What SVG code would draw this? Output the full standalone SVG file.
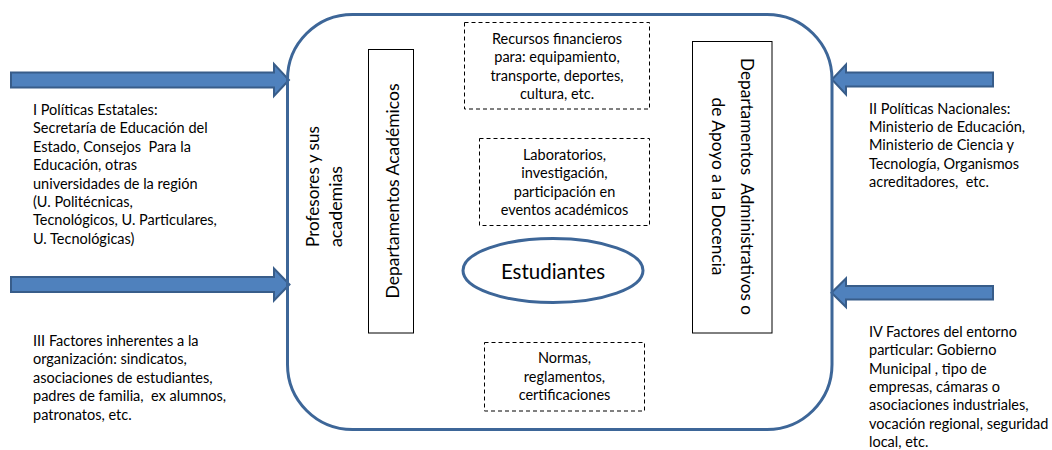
<svg xmlns="http://www.w3.org/2000/svg" width="1052" height="450" viewBox="0 0 1052 450">
<style>
.t{font-family:Lato,"Liberation Sans",sans-serif;font-size:14.5px;fill:#000}
.c{text-anchor:middle}
.big{font-size:18px}
.arrow{fill:#4F81BD;stroke:#385D8A;stroke-width:2;stroke-linejoin:miter}
.dash{fill:#fff;stroke:#000;stroke-width:1;stroke-dasharray:4 3}
.solid{fill:#fff;stroke:#000;stroke-width:1}
</style>
<rect width="1052" height="450" fill="#fff"/>
<g id="connectors">
<path class="arrow" d="M11,72.5 H274 V64 L289,80 L274,96 V87.5 H11 Z"/>
<path class="arrow" d="M11,277 H274 V268.5 L289.5,284.5 L274,300.5 V292 H11 Z"/>
<path class="arrow" d="M993,72.5 H846 V64.5 L832,79.5 L846,94.5 V86.5 H993 Z"/>
<path class="arrow" d="M993,286 H846 V278.5 L831.5,292.7 L846,307 V299.5 H993 Z"/>
</g>
<g id="institution">
<rect x="287.5" y="14.5" width="544.5" height="415" rx="65" ry="65" fill="none" stroke="#3D6698" stroke-width="3"/>
</g>
<g id="profesores">
<text class="t big" transform="translate(319,247) rotate(-90)" textLength="121" lengthAdjust="spacingAndGlyphs">Profesores y sus</text>
<text class="t big" transform="translate(342,247) rotate(-90)" textLength="81" lengthAdjust="spacingAndGlyphs">academias</text>
</g>
<g id="dep-academicos">
<rect class="solid" x="368.5" y="49.5" width="45" height="283.5"/>
<text class="t big c" transform="translate(399,191) rotate(-90)" textLength="215" lengthAdjust="spacingAndGlyphs">Departamentos Académicos</text>
</g>
<g id="dep-administrativos">
<rect class="solid" x="692.5" y="41.5" width="79.5" height="291.5"/>
<text class="t big c" transform="translate(741,186.5) rotate(90)" xml:space="preserve" textLength="257" lengthAdjust="spacingAndGlyphs">Departamentos  Administrativos o</text>
<text class="t big c" transform="translate(712,186.5) rotate(90)" textLength="178" lengthAdjust="spacingAndGlyphs">de Apoyo a la Docencia</text>
</g>
<g id="recursos">
<rect class="dash" x="464.5" y="22.5" width="185" height="86.5"/>
<text class="t c" x="557" y="43.5">Recursos financieros</text>
<text class="t c" x="557" y="62">para: equipamiento,</text>
<text class="t c" x="557" y="80.5">transporte, deportes,</text>
<text class="t c" x="557" y="99">cultura, etc.</text>
</g>
<g id="laboratorios">
<rect class="dash" x="479.5" y="138.5" width="170" height="87"/>
<text class="t c" x="564.5" y="159.5">Laboratorios,</text>
<text class="t c" x="564.5" y="178">investigación,</text>
<text class="t c" x="564.5" y="196.5">participación en</text>
<text class="t c" x="564.5" y="215">eventos académicos</text>
</g>
<g id="estudiantes">
<ellipse cx="553" cy="270.5" rx="90" ry="32" fill="#fff" stroke="#3D6698" stroke-width="3"/>
<text class="t c" x="553" y="278.5" style="font-size:20.5px">Estudiantes</text>
</g>
<g id="normas">
<rect class="dash" x="484.5" y="342.5" width="160" height="68.5"/>
<text class="t c" x="564.5" y="363.3">Normas,</text>
<text class="t c" x="564.5" y="381.7">reglamentos,</text>
<text class="t c" x="564.5" y="400">certificaciones</text>
</g>
<g id="politicas-estatales">
<text class="t" x="33" y="115">I Políticas Estatales:</text>
<text class="t" x="33" y="133.4" xml:space="preserve">Secretaría de Educación del</text>
<text class="t" x="33" y="151.8" xml:space="preserve">Estado, Consejos  Para la</text>
<text class="t" x="33" y="170.2">Educación, otras</text>
<text class="t" x="33" y="188.6">universidades de la región</text>
<text class="t" x="33" y="207">(U. Politécnicas,</text>
<text class="t" x="33" y="225.4">Tecnológicos, U. Particulares,</text>
<text class="t" x="33" y="243.8">U. Tecnológicas)</text>
</g>
<g id="factores-organizacion">
<text class="t" x="33" y="346">III Factores inherentes a la</text>
<text class="t" x="33" y="364.4">organización: sindicatos,</text>
<text class="t" x="33" y="382.8">asociaciones de estudiantes,</text>
<text class="t" x="33" y="401.2" xml:space="preserve">padres de familia,  ex alumnos,</text>
<text class="t" x="33" y="419.6">patronatos, etc.</text>
</g>
<g id="politicas-nacionales">
<text class="t" x="869" y="113.5">II Políticas Nacionales:</text>
<text class="t" x="869" y="131.9">Ministerio de Educación,</text>
<text class="t" x="869" y="150.3">Ministerio de Ciencia y</text>
<text class="t" x="869" y="168.7">Tecnología, Organismos</text>
<text class="t" x="869" y="187.1" xml:space="preserve">acreditadores,  etc.</text>
</g>
<g id="factores-entorno">
<text class="t" x="869" y="336.7">IV Factores del entorno</text>
<text class="t" x="869" y="355.1">particular: Gobierno</text>
<text class="t" x="869" y="373.5">Municipal , tipo de</text>
<text class="t" x="869" y="391.9">empresas, cámaras o</text>
<text class="t" x="869" y="410.3">asociaciones industriales,</text>
<text class="t" x="869" y="428.7">vocación regional, seguridad</text>
<text class="t" x="869" y="447.1">local, etc.</text>
</g>
</svg>
